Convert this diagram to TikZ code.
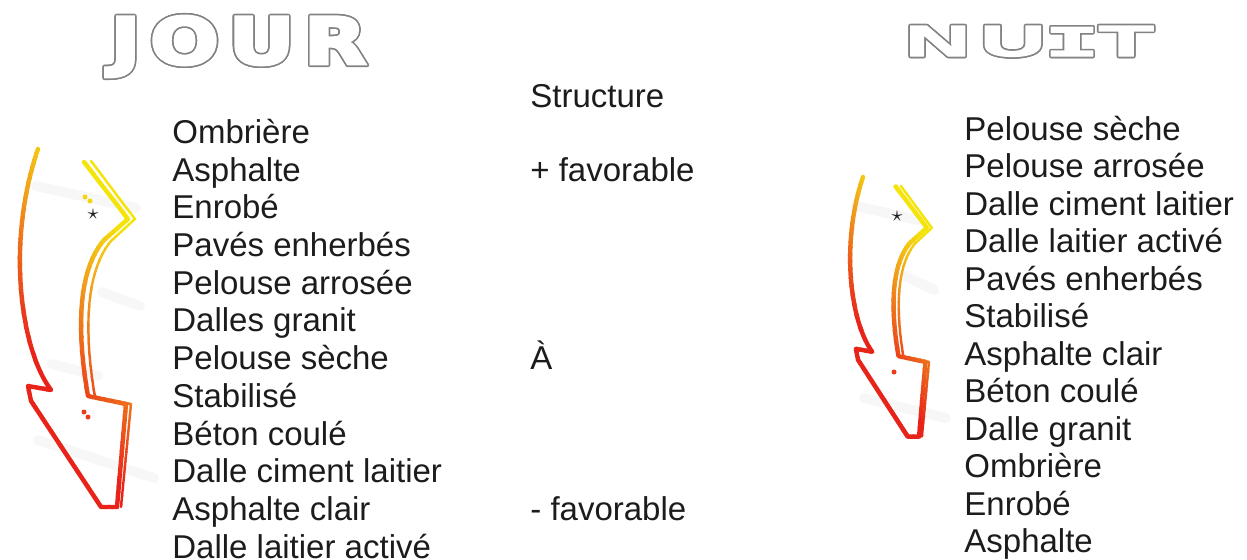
\documentclass[tikz,border=0pt]{standalone}
\usepackage{fontspec}
\setmainfont{Liberation Sans}
\newfontfamily\policejour[LetterSpace=12, FakeBold=4.5]{DejaVu Sans Bold}
\newfontfamily\policenuit[LetterSpace=12, FakeBold=3]{Liberation Sans Bold}
\newfontfamily\policei[FakeBold=3]{Liberation Mono Bold}
\usepackage[copies]{contour}
\contourlength{0.8pt}

\definecolor{flecheJaune}{RGB}{244,228,12}
\definecolor{flecheOrange}{RGB}{241,158,28}
\definecolor{flecheRouge}{RGB}{232,36,26}
\definecolor{encre}{RGB}{28,28,30}
\definecolor{bordTitre}{RGB}{130,130,130}

% outline of the curved arrow (pixel-like units)
\newcommand{\dessinfleche}[1]{%
  \draw[#1, line width=2.2pt, line join=round, line cap=round]
    (38,149) .. controls (22,195) and (12,265) .. (28,335)
    .. controls (34,360) and (42,378) .. (51,390) -- (28,386) -- (31,401)
    -- (101,507) -- (117,507) -- (126,404) -- (88,396)
    .. controls (79,345) and (74,275) .. (104,240) -- (128,219) -- (84,162);
  \draw[#1, line width=1.2pt, line join=round, line cap=round]
    (91,161) -- (135,219) -- (111,241)
    .. controls (82,276) and (86,345) .. (95,397) -- (131,404) -- (121,507);
}

% yellow -> orange -> red, drawn strip by strip
\newcommand{\fleche}{%
  \foreach \t in {0,10,...,370}{
    \pgfmathtruncatemacro\pj{max(0,min(100,(\t-40)/1.1))}
    \pgfmathtruncatemacro\pr{max(0,min(100,(\t-150)/1.5))}
    \ifnum\t<150 \colorlet{teinte}{flecheOrange!\pj!flecheJaune}%
    \else \colorlet{teinte}{flecheRouge!\pr!flecheOrange}\fi
    \begin{scope}
      \clip (-40,\t-60) -- (200,\t+300) -- (200,\t+312) -- (-40,\t-48) -- cycle;
      \dessinfleche{teinte}
    \end{scope}
  }%
}

% hollow title: grey ring, white body
\newcommand{\titrecreux}[1]{{\color{white}\contour{bordTitre}{#1}}}

\begin{document}
\begin{tikzpicture}[x=0.5pt, y=-0.5pt,
    texte/.style={anchor=base west, inner sep=0pt, text=encre,
      font=\fontsize{16.5}{19}\selectfont},
    titre/.style={anchor=base west, inner sep=0pt},
    trainee/.style={line width=5pt, black!3, line cap=round},
    tache/.style={circle, inner sep=0pt, minimum size=2.5pt}]
  \useasboundingbox (0,0) rectangle (1247,559);

  % faint streaks behind the arrows
  \draw[trainee] (36,186) -- (136,208);
  \draw[trainee] (102,292) -- (140,306);
  \draw[trainee] (52,364) -- (98,376);
  \draw[trainee] (38,440) -- (154,478);
  \draw[trainee] (856,206) -- (918,220);
  \draw[trainee] (905,276) -- (934,290);
  \draw[trainee] (864,398) -- (946,418);

  % arrows
  \begin{scope}
    \fleche
  \end{scope}
  \begin{scope}[shift={(836,69)}, xscale=0.71, yscale=0.725]
    \fleche
  \end{scope}

  \node[inner sep=0pt, text=encre, font=\fontsize{11}{11}\selectfont] (etoileJ) at (93,214) {$\star$};
  \node[inner sep=0pt, text=encre, font=\fontsize{11}{11}\selectfont] (etoileN) at (897,216) {$\star$};
  \node[tache, fill=flecheJaune!80!flecheOrange] (pj1) at (85,197) {};
  \node[tache, fill=flecheJaune!80!flecheOrange] (pj2) at (90,201) {};
  \node[tache, fill=flecheRouge!80!flecheOrange] (pr1) at (84,412) {};
  \node[tache, fill=flecheRouge!80!flecheOrange] (pr2) at (88,417) {};
  \node[tache, fill=flecheRouge!80!flecheOrange] (pr3) at (894,372) {};

  % titles
  \node[titre] (jour) at (110,64) {\titrecreux{\resizebox{128pt}{24pt}{\policejour JOUR}}};
  \node[titre] (nuit) at (905,56) {\titrecreux{\resizebox{124pt}{15pt}{\policenuit NU{\policei I}T}}};

  % day ranking
  \node[texte] (j1) at (172,143) {Ombrière};
  \node[texte] (j2) at (172,181) {Asphalte};
  \node[texte] (j3) at (172,218) {Enrobé};
  \node[texte] (j4) at (172,256) {Pavés enherbés};
  \node[texte] (j5) at (172,294) {Pelouse arrosée};
  \node[texte] (j6) at (172,331) {Dalles granit};
  \node[texte] (j7) at (172,369) {Pelouse sèche};
  \node[texte] (j8) at (172,407) {Stabilisé};
  \node[texte] (j9) at (172,445) {Béton coulé};
  \node[texte] (j10) at (172,482) {Dalle ciment laitier};
  \node[texte] (j11) at (172,520) {Asphalte clair};
  \node[texte] (j12) at (172,558) {Dalle laitier activé};

  % middle column
  \node[texte] (structure) at (530,107) {Structure};
  \node[texte] (plus) at (530,181) {+ favorable};
  \node[texte] (a) at (530,369) {À};
  \node[texte] (moins) at (530,520) {- favorable};

  % night ranking
  \node[texte] (n1) at (964,140) {Pelouse sèche};
  \node[texte] (n2) at (964,177) {Pelouse arrosée};
  \node[texte] (n3) at (964,215) {Dalle ciment laitier};
  \node[texte] (n4) at (964,252) {Dalle laitier activé};
  \node[texte] (n5) at (964,290) {Pavés enherbés};
  \node[texte] (n6) at (964,327) {Stabilisé};
  \node[texte] (n7) at (964,365) {Asphalte clair};
  \node[texte] (n8) at (964,402) {Béton coulé};
  \node[texte] (n9) at (964,440) {Dalle granit};
  \node[texte] (n10) at (964,477) {Ombrière};
  \node[texte] (n11) at (964,515) {Enrobé};
  \node[texte] (n12) at (964,552) {Asphalte};
\end{tikzpicture}
\end{document}
